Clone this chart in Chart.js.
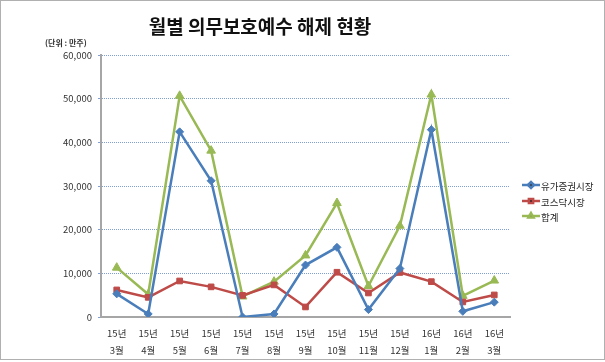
<!DOCTYPE html>
<html>
<head>
<meta charset="utf-8">
<script src="https://cdn.jsdelivr.net/npm/chart.js@4"></script>
<style>
  html, body { margin: 0; padding: 0; background: #fff; }
  #wrap { width: 605px; height: 362px; }
</style>
</head>
<body>
<div id="wrap"><canvas id="myLineChart" width="605" height="362"></canvas></div>
<script>
const years = ["15년", "15년", "15년", "15년", "15년", "15년", "15년", "15년", "15년", "15년", "16년", "16년", "16년"];
const months = ["3월", "4월", "5월", "6월", "7월", "8월", "9월", "10월", "11월", "12월", "1월", "2월", "3월"];
const seriesNames = ["유가증권시장", "코스닥시장", "합계"];
const kospi = [5300, 700, 42400, 31200, 0, 700, 11900, 15950, 1700, 11100, 42900, 1300, 3400];
const kosdaq = [6200, 4500, 8250, 6900, 4950, 7350, 2300, 10250, 5500, 10200, 8100, 3450, 5050];
const total = [11300, 5200, 50650, 38100, 4700, 8100, 14100, 26100, 7100, 20900, 50950, 4850, 8350];
const yTicks = [0, 10000, 20000, 30000, 40000, 50000, 60000];

const colors = ["#4a7ebb", "#be4b48", "#98b954"];
const markers = ["rectRot", "rect", "triangle"];
const font = "'Noto Sans CJK KR', 'Noto Sans', sans-serif";

const ctx = document.getElementById("myLineChart");

// title, unit label, legend and frame drawn by hand
const decor = {
  id: "decor",
  afterDraw(chart) {
    const c = chart.ctx;
    c.save();
    c.strokeStyle = "#b0b0b0";
    c.lineWidth = 1;
    c.strokeRect(0.5, 0.5, 604, 359);

    c.fillStyle = "#111";
    c.textAlign = "center";
    c.textBaseline = "middle";
    c.font = "bold 19px " + font;
    c.fillText("월별 의무보호예수 해제 현황", 260, 27);

    c.font = "bold 8px " + font;
    c.fillStyle = "#333";
    c.textAlign = "left";
    c.fillText("(단위 : 만주)", 45, 43);

    // legend
    const ys = [185, 201, 216];
    c.font = "9.5px " + font;
    for (let i = 0; i < seriesNames.length; i++) {
      c.strokeStyle = colors[i];
      c.lineWidth = 2.5;
      c.beginPath();
      c.moveTo(522, ys[i]);
      c.lineTo(540, ys[i]);
      c.stroke();
      Chart.helpers.drawPoint(c, { pointStyle: markers[i], radius: 3, borderWidth: 1 }, 531, ys[i]);
      c.fillStyle = "#222";
      c.fillText(seriesNames[i], 541, ys[i] + 1);
    }
    c.restore();
  }
};

function makeSet(i, values) {
  return {
    label: seriesNames[i],
    data: values,
    borderColor: colors[i],
    backgroundColor: colors[i],
    borderWidth: 2.5,
    tension: 0,
    pointStyle: markers[i],
    pointRadius: i === 2 ? 5 : 4,
    pointBorderWidth: 1,
  };
}

new Chart(ctx, {
  type: "line",
  data: {
    labels: years.map((y, i) => [y, months[i]]),
    datasets: [makeSet(0, kospi), makeSet(1, kosdaq), makeSet(2, total)],
  },
  options: {
    responsive: false,
    animation: false,
    layout: { padding: { top: 55, right: 95, left: 0, bottom: 0 } },
    plugins: {
      legend: { display: false },
      title: { display: false },
      tooltip: { enabled: false },
    },
    scales: {
      x: {
        offset: true,
        grid: { display: false },
        border: { color: "#a6a6a6", width: 2 },
        ticks: {
          color: "#333",
          font: { family: font, size: 9.5, lineHeight: 1.75 },
          maxRotation: 0,
          autoSkip: false,
          padding: 0,
        },
        afterFit(scale) { scale.height = 45; },
      },
      y: {
        min: 0,
        max: 60000,
        afterBuildTicks(scale) { scale.ticks = yTicks.map(v => ({ value: v })); },
        grid: {
          color: "#7f9fd4",
          lineWidth: 1,
          tickLength: 3,
        },
        border: { color: "#a6a6a6", width: 2, dash: [1, 1] },
        ticks: {
          color: "#333",
          font: { family: font, size: 9.5 },
          padding: 6,
          callback: v => v.toLocaleString("en-US"),
        },
        afterFit(scale) { scale.width = 101; },
      },
    },
  },
  plugins: [decor],
});
</script>
</body>
</html>
